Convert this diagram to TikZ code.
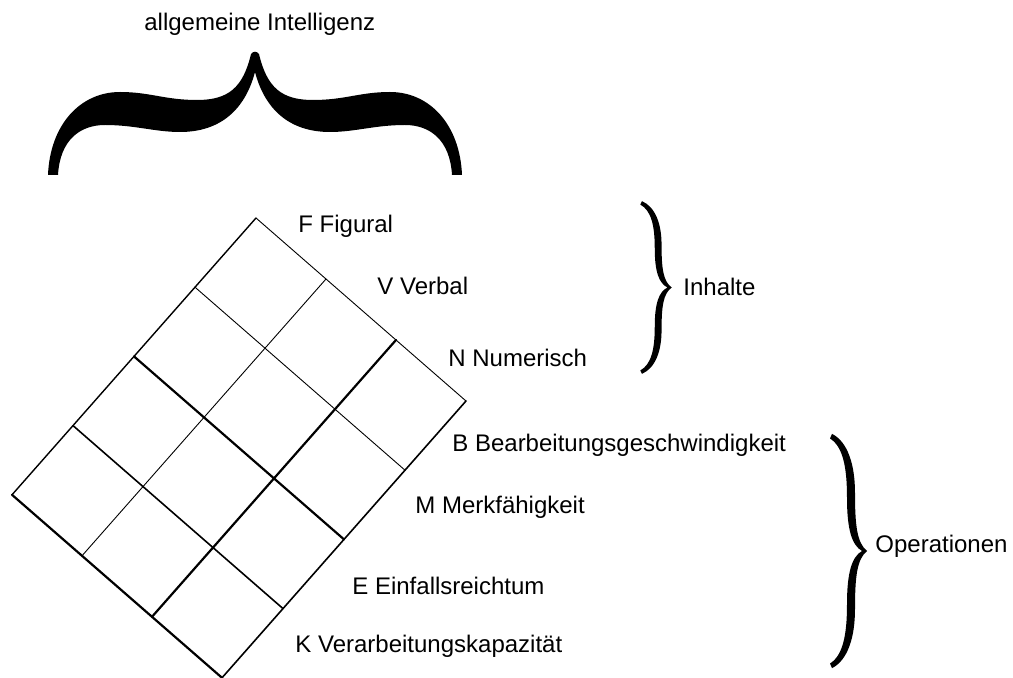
\documentclass[tikz,border=0pt]{standalone}
\usepackage{fontspec}
\setmainfont{Liberation Sans}
\usepackage{tikz}

\begin{document}
\begin{tikzpicture}[x = 0.5pt, y = -0.5pt,
  lbl/.style = {anchor = base west, inner sep = 0pt, font = \fontsize{12}{14}\selectfont},
  bracefill/.style = {fill = black},
  sidebrace/.pic = {
    \fill[bracefill] (0,-101) .. controls (16,-94) and (23,-74) .. (23,-50)
      .. controls (23,-22) and (25,-7) .. (35,0)
      .. controls (25,7) and (23,22) .. (23,50)
      .. controls (23,74) and (16,94) .. (0,101)
      -- (-2,97) .. controls (11,90) and (15,72) .. (15,46)
      .. controls (15,18) and (20,5) .. (30,0)
      .. controls (20,-5) and (15,-18) .. (15,-46)
      .. controls (15,-72) and (11,-90) .. (-2,-97) -- cycle;
  }]
\useasboundingbox (0,0) rectangle (1013,678);

% big brace on top
\node[lbl] (gi) at (144,31) {allgemeine Intelligenz};
\fill[bracefill] (251,54) .. controls (243,88) and (228,100) .. (197,100)
  .. controls (165,100) and (150,92) .. (120,92)
  .. controls (80,92) and (50,125) .. (48,175)
  -- (58,175) .. controls (60,140) and (80,125) .. (105,125)
  .. controls (135,125) and (155,132) .. (180,132)
  .. controls (220,132) and (245,110) .. (255,72)
  .. controls (265,110) and (290,132) .. (330,132)
  .. controls (355,132) and (375,125) .. (405,125)
  .. controls (430,125) and (450,140) .. (452,175)
  -- (462,175) .. controls (460,125) and (430,92) .. (390,92)
  .. controls (360,92) and (345,100) .. (313,100)
  .. controls (282,100) and (267,88) .. (259,54)
  .. controls (257,51) and (253,51) .. (251,54) -- cycle;

% the grid
\begin{scope}[shift = {(256,218)}, x = {(35pt,-30.5pt)}, y = {(-30.5pt,-34.6pt)}, line cap = round]
\foreach \i/\lw in {0/0.7, 1/0.45, 2/1.1, 3/0.8}
  \draw[line width = \lw pt] (\i,0) -- (\i,4);
\foreach \j/\lw in {0/0.45, 1/0.45, 2/1.1, 3/0.8, 4/1.1}
  \draw[line width = \lw pt] (0,\j) -- (3,\j);
\end{scope}

\node[lbl] (fig) at (298,233) {F Figural};
\node[lbl] (verb) at (377,295) {V Verbal};
\node[lbl] (num) at (448,367) {N Numerisch};
\node[lbl] (bearb) at (452,452) {B Bearbeitungsgeschwindigkeit};
\node[lbl] (merk) at (415,514) {M Merkfähigkeit};
\node[lbl] (einf) at (352,595) {E Einfallsreichtum};
\node[lbl] (kap) at (295,653) {K Verarbeitungskapazität};

% side braces
\pic[xscale = 0.85, yscale = 0.855] at (642,287.5) {sidebrace};
\node[lbl] (inh) at (683,296) {Inhalte};
\pic[yscale = 1.16] at (832,551) {sidebrace};
\node[lbl] (op) at (875,553) {Operationen};
\end{tikzpicture}
\end{document}
